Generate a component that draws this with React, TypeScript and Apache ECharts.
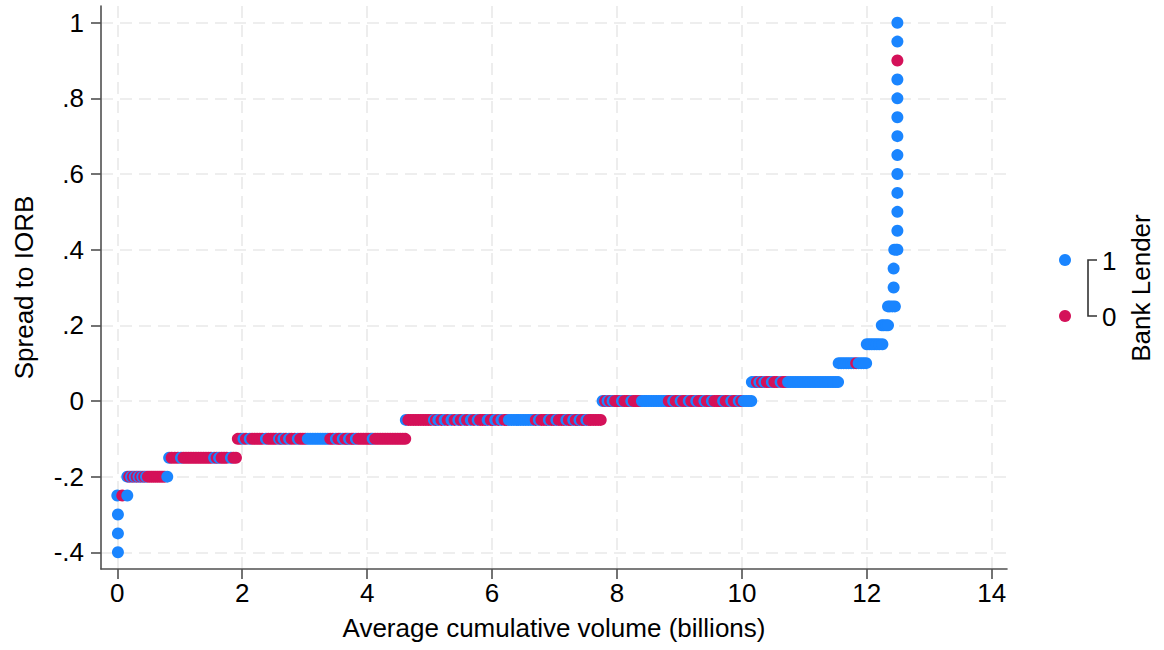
import React, { useEffect, useRef } from 'react';
import * as echarts from 'echarts';

// Spread levels (y) and the average cumulative volumes (x, billions) observed at each level
const spreadLevels = [
  -0.4, -0.35, -0.3, -0.25, -0.2, -0.15, -0.1, -0.05, 0, 0.05, 0.1, 0.15, 0.2, 0.25,
  0.3, 0.35, 0.4, 0.45, 0.5, 0.55, 0.6, 0.65, 0.7, 0.75, 0.8, 0.85, 0.9, 0.95, 1.0,
];

// Bank Lender = 1
const bankLenderVolumes: number[][] = [
  [0.01],
  [0.01],
  [0.01],
  [0.0, 0.16],
  [0.16, 0.22, 0.28, 0.34, 0.4, 0.46, 0.8],
  [0.83, 1.02, 1.55, 1.63, 1.82],
  [2.02, 2.12, 2.38, 2.59, 2.66, 2.75, 2.89, 3.05, 3.09, 3.13, 3.17, 3.21, 3.25, 3.29, 3.33, 3.37, 3.5, 3.61, 3.71, 3.82, 4.09],
  [4.62, 5.07, 5.14, 5.24, 5.35, 5.46, 5.56, 5.66, 5.77, 5.93, 6.05, 6.15, 6.27, 6.31, 6.35, 6.39, 6.42, 6.46, 6.5, 6.54, 6.58, 6.62, 6.66, 6.75, 6.91, 7.03, 7.19, 7.3, 7.4, 7.51],
  [7.77, 7.85, 7.93, 8.08, 8.23, 8.4, 8.44, 8.47, 8.51, 8.55, 8.59, 8.63, 8.67, 8.71, 8.75, 8.79, 8.9, 9.02, 9.15, 9.27, 9.4, 9.52, 9.7, 9.83, 9.95, 10.03, 10.07, 10.11, 10.15],
  [10.16, 10.2, 10.28, 10.36, 10.48, 10.62, 10.74, 10.78, 10.82, 10.86, 10.9, 10.94, 10.98, 11.02, 11.06, 11.1, 11.14, 11.18, 11.22, 11.26, 11.3, 11.34, 11.38, 11.42, 11.46, 11.5, 11.54],
  [11.55, 11.59, 11.63, 11.67, 11.71, 11.75, 11.79, 11.87, 11.91, 11.95, 11.99],
  [12.0, 12.04, 12.08, 12.12, 12.16, 12.2, 12.25],
  [12.24, 12.27, 12.31, 12.34],
  [12.34, 12.37, 12.41, 12.45],
  [12.43],
  [12.43],
  [12.44, 12.47, 12.49],
  [12.49],
  [12.49],
  [12.49],
  [12.49],
  [12.49],
  [12.49],
  [12.49],
  [12.49],
  [12.49],
  [],
  [12.49],
  [12.49],
];

// Bank Lender = 0
const nonBankLenderVolumes: number[][] = [
  [],
  [],
  [],
  [0.08],
  [0.19, 0.25, 0.31, 0.37, 0.43, 0.49, 0.52, 0.55, 0.58, 0.61, 0.64, 0.67, 0.7, 0.73, 0.76],
  [0.87, 0.92, 0.97, 1.06, 1.1, 1.14, 1.18, 1.22, 1.26, 1.3, 1.34, 1.38, 1.42, 1.46, 1.5, 1.59, 1.67, 1.71, 1.75, 1.86, 1.9],
  [1.93, 1.97, 2.06, 2.16, 2.2, 2.24, 2.28, 2.32, 2.42, 2.46, 2.5, 2.54, 2.62, 2.7, 2.79, 2.84, 2.93, 2.97, 3.01, 3.41, 3.45, 3.54, 3.57, 3.65, 3.68, 3.75, 3.78, 3.86, 3.9, 3.94, 3.98, 4.02, 4.06, 4.13, 4.17, 4.21, 4.25, 4.29, 4.33, 4.37, 4.41, 4.45, 4.49, 4.53, 4.57, 4.61],
  [4.66, 4.7, 4.74, 4.78, 4.82, 4.86, 4.9, 4.94, 4.98, 5.02, 5.1, 5.19, 5.29, 5.4, 5.5, 5.6, 5.71, 5.81, 5.85, 5.89, 5.98, 6.01, 6.1, 6.2, 6.23, 6.7, 6.79, 6.83, 6.87, 6.95, 6.99, 7.07, 7.11, 7.15, 7.23, 7.26, 7.34, 7.37, 7.44, 7.47, 7.55, 7.58, 7.62, 7.66, 7.7, 7.74],
  [7.81, 7.89, 7.97, 8.0, 8.04, 8.12, 8.16, 8.19, 8.27, 8.3, 8.34, 8.37, 8.83, 8.86, 8.94, 8.98, 9.06, 9.1, 9.19, 9.23, 9.31, 9.35, 9.44, 9.48, 9.56, 9.6, 9.63, 9.66, 9.74, 9.78, 9.87, 9.91, 9.99],
  [10.24, 10.32, 10.4, 10.44, 10.52, 10.56, 10.66, 10.7],
  [11.83],
  [], [], [], [], [], [], [], [], [], [], [], [], [], [], [],
  [12.49],
  [], [],
];

const xTickValues = [0, 2, 4, 6, 8, 10, 12, 14];
const yTickValues = [-0.4, -0.2, 0, 0.2, 0.4, 0.6, 0.8, 1];
const legendLabels = ['1', '0'];
const legendTitle = 'Bank Lender';
const xTitle = 'Average cumulative volume (billions)';
const yTitle = 'Spread to IORB';

const BLUE = '#1A85FF';
const RED = '#D41159';
const AXIS = '#505050';
const GRIDC = '#e9e9e9';
const FONT = '"Liberation Sans", Arial, Helvetica, sans-serif';

function stataLabel(v: number): string {
  if (Math.abs(v) < 1e-9) return '0';
  const a = Math.abs(v);
  const s = a >= 1 ? String(Math.round(a * 10) / 10) : '.' + String(Math.round(a * 10));
  return (v < 0 ? '-' : '') + s;
}

function buildPoints() {
  const pts: [number, number, number][] = [];
  spreadLevels.forEach((y, i) => {
    const row: [number, number, number][] = [];
    (bankLenderVolumes[i] || []).forEach((x) => row.push([x, y, 1]));
    (nonBankLenderVolumes[i] || []).forEach((x) => row.push([x, y, 0]));
    row.sort((a, b) => a[0] - b[0]);
    pts.push(...row);
  });
  return pts;
}

export default function App() {
  const ref = useRef<HTMLDivElement>(null);
  useEffect(() => {
    if (!ref.current) return;
    const chart = echarts.init(ref.current, undefined, { renderer: 'svg' });
    const option: any = {
      animation: false,
      backgroundColor: '#ffffff',
      textStyle: { fontFamily: FONT, color: '#000' },
      grid: {
        left: 101,
        right: 157,
        top: 6,
        bottom: 81,
        containLabel: false,
        outerBoundsMode: 'none',
      },
      xAxis: {
        type: 'value',
        min: -0.261,
        max: 14.245,
        name: xTitle,
        nameLocation: 'middle',
        nameGap: 46,
        nameTextStyle: { fontSize: 26, color: '#000', fontFamily: FONT, verticalAlign: 'top' },
        axisLine: { show: true, onZero: false, lineStyle: { color: AXIS, width: 1.6 } },
        axisTick: { show: true, inside: false, length: 10, customValues: xTickValues, lineStyle: { color: AXIS, width: 1.6 } },
        axisLabel: { show: true, customValues: xTickValues, margin: 11, fontSize: 26, color: '#000', fontFamily: FONT },
        splitLine: { show: true, lineStyle: { color: GRIDC, width: 1.6, type: [12, 7] } },
      },
      yAxis: {
        type: 'value',
        min: -0.4441,
        max: 1.0441,
        name: yTitle,
        nameLocation: 'middle',
        nameGap: 64,
        nameTextStyle: { fontSize: 26, color: '#000', fontFamily: FONT },
        axisLine: { show: true, onZero: false, lineStyle: { color: AXIS, width: 1.6 } },
        axisTick: { show: true, inside: false, length: 10, customValues: yTickValues, lineStyle: { color: AXIS, width: 1.6 } },
        axisLabel: {
          show: true,
          customValues: yTickValues,
          margin: 17,
          fontSize: 26,
          color: '#000',
          fontFamily: FONT,
          formatter: (v: number) => stataLabel(v),
        },
        splitLine: { show: true, lineStyle: { color: GRIDC, width: 1.6, type: [12, 7] } },
      },
      series: [
        {
          type: 'scatter',
          data: buildPoints(),
          symbol: 'circle',
          symbolSize: 12,
          itemStyle: {
            color: (p: any) => (p.data[2] === 1 ? BLUE : RED),
            opacity: 1,
          },
        },
      ],
      graphic: [
        { type: 'circle', shape: { cx: 1065, cy: 260, r: 6 }, style: { fill: BLUE } },
        { type: 'circle', shape: { cx: 1065, cy: 316, r: 6 }, style: { fill: RED } },
        {
          type: 'polyline',
          shape: { points: [[1097, 260], [1088, 260], [1088, 316], [1097, 316]] },
          style: { stroke: '#333', lineWidth: 1.6, fill: null },
        },
        {
          type: 'text',
          x: 1102,
          y: 261,
          style: { text: legendLabels[0], font: `26px ${FONT}`, fill: '#000', align: 'left', verticalAlign: 'middle' },
        },
        {
          type: 'text',
          x: 1102,
          y: 317,
          style: { text: legendLabels[1], font: `26px ${FONT}`, fill: '#000', align: 'left', verticalAlign: 'middle' },
        },
        {
          type: 'text',
          x: 1141,
          y: 288,
          rotation: Math.PI / 2,
          style: { text: legendTitle, font: `26px ${FONT}`, fill: '#000', align: 'center', verticalAlign: 'middle' },
        },
      ],
    };
    chart.setOption(option);
    return () => chart.dispose();
  }, []);
  return (
    <div
      ref={ref}
      style={{ position: 'fixed', left: 0, top: 0, width: 1164, height: 650, background: '#fff' }}
    />
  );
}
